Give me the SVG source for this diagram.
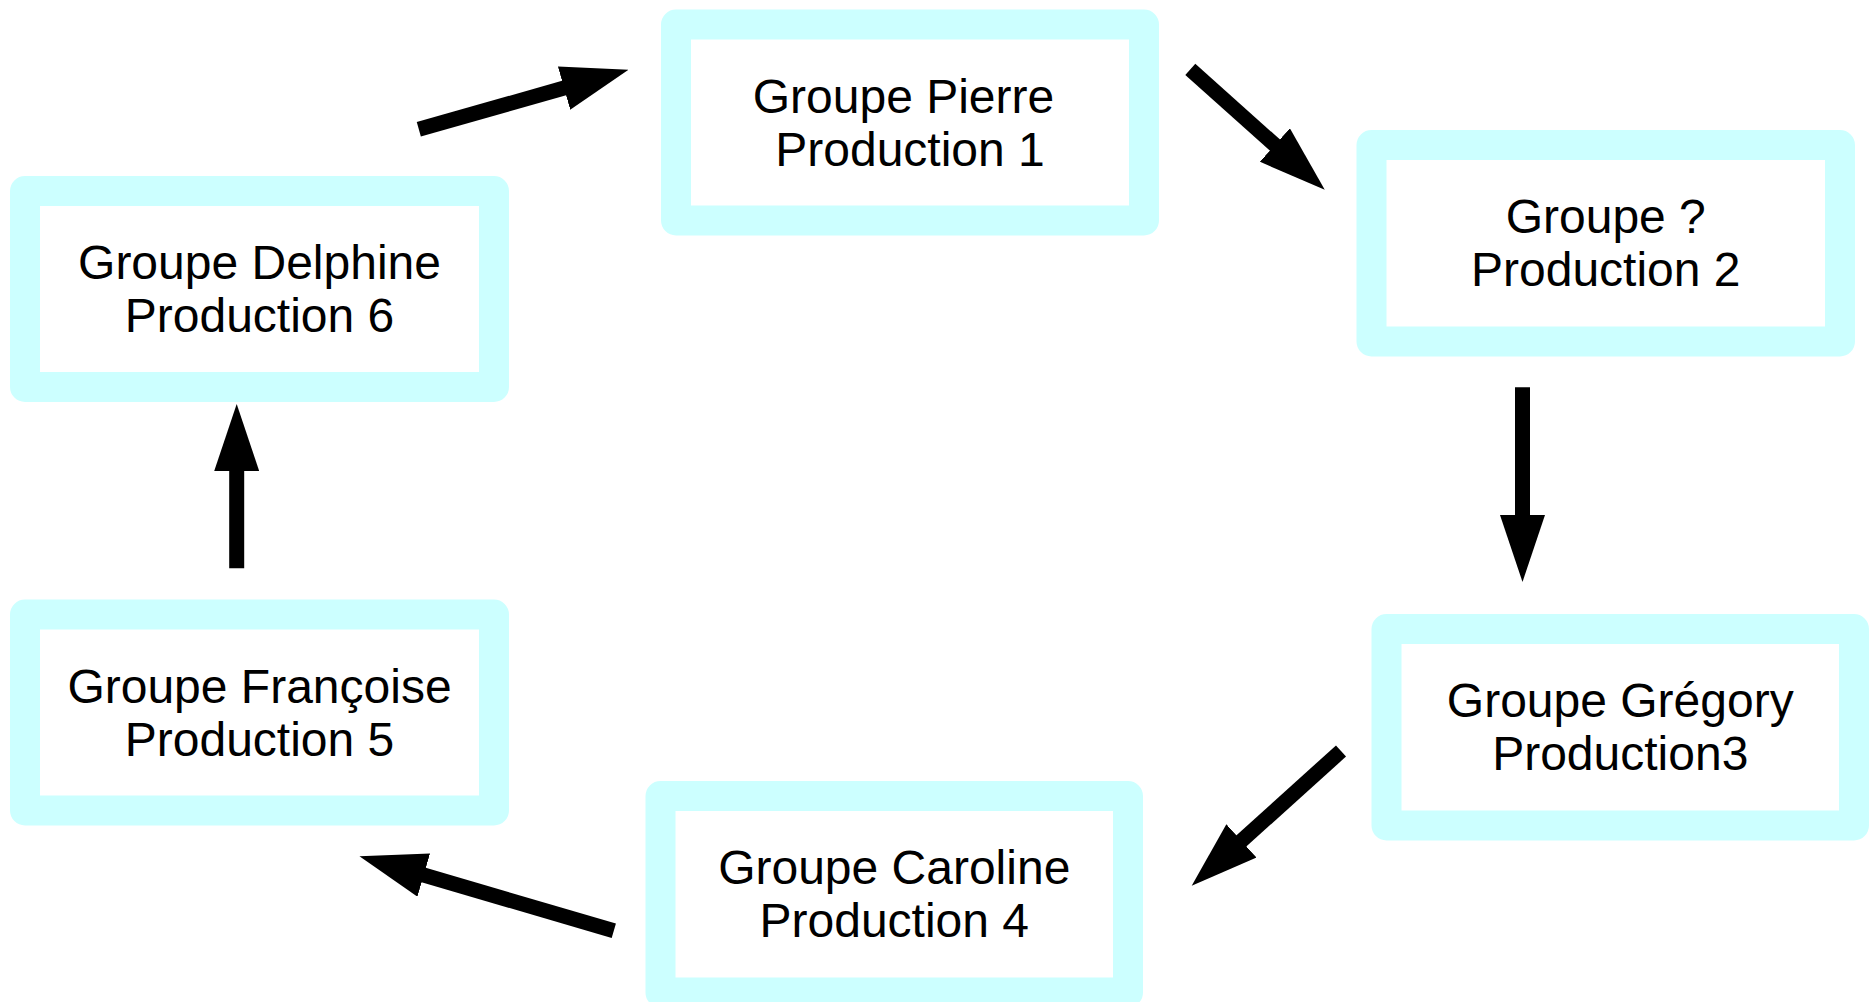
<svg xmlns="http://www.w3.org/2000/svg" width="1869" height="1002" viewBox="0 0 1869 1002">
  <style>
    .box { fill: #ffffff; stroke: #ccffff; stroke-width: 30; stroke-linejoin: round; }
    .lbl { font-family: "Liberation Sans", Arial, sans-serif; font-size: 48px; fill: #000000; text-anchor: middle; }
    .arr { stroke: #000000; stroke-width: 15; fill: none; stroke-linecap: butt; marker-end: url(#head); }
  </style>
  <defs>
    <marker id="head" viewBox="0 0 67 45" refX="1" refY="22.5" markerWidth="67" markerHeight="45" markerUnits="userSpaceOnUse" orient="auto">
      <path d="M0,0 L67,22.5 L0,45 Z" fill="#000000"/>
    </marker>
  </defs>
  <rect width="1869" height="1002" fill="#ffffff"/>

  <g id="node-pierre">
    <rect class="box" x="676" y="24.5" width="468" height="196"/>
    <text class="lbl" x="903.5" y="112.5">Groupe Pierre</text>
    <text class="lbl" x="910" y="165.5">Production 1</text>
  </g>
  <g id="node-inconnu">
    <rect class="box" x="1371.5" y="145" width="468.5" height="196.5"/>
    <text class="lbl" x="1605.75" y="233">Groupe ?</text>
    <text class="lbl" x="1605.75" y="286">Production 2</text>
  </g>
  <g id="node-gregory">
    <rect class="box" x="1386.5" y="629" width="467.5" height="196.5"/>
    <text class="lbl" x="1620.25" y="717">Groupe Grégory</text>
    <text class="lbl" x="1620.25" y="770">Production3</text>
  </g>
  <g id="node-caroline">
    <rect class="box" x="660.5" y="796" width="467.5" height="196.5"/>
    <text class="lbl" x="894.25" y="884">Groupe Caroline</text>
    <text class="lbl" x="894.25" y="937">Production 4</text>
  </g>
  <g id="node-francoise">
    <rect class="box" x="25" y="614.5" width="469" height="196"/>
    <text class="lbl" x="259.5" y="702.5">Groupe Françoise</text>
    <text class="lbl" x="259.5" y="755.5">Production 5</text>
  </g>
  <g id="node-delphine">
    <rect class="box" x="25" y="191" width="469" height="196"/>
    <text class="lbl" x="259.5" y="279">Groupe Delphine</text>
    <text class="lbl" x="259.5" y="332">Production 6</text>
  </g>

  <g id="connectors">
    <line class="arr" x1="418.8" y1="129.3" x2="565" y2="87.8"/>
    <line class="arr" x1="1190.3" y1="69.3" x2="1275.6" y2="145.7"/>
    <line class="arr" x1="1522.5" y1="387.3" x2="1522.5" y2="516"/>
    <line class="arr" x1="1341" y1="751" x2="1240.7" y2="841.5"/>
    <line class="arr" x1="613.8" y1="930.7" x2="422.8" y2="874.8"/>
    <line class="arr" x1="236.7" y1="568.3" x2="236.7" y2="470"/>
  </g>
</svg>
